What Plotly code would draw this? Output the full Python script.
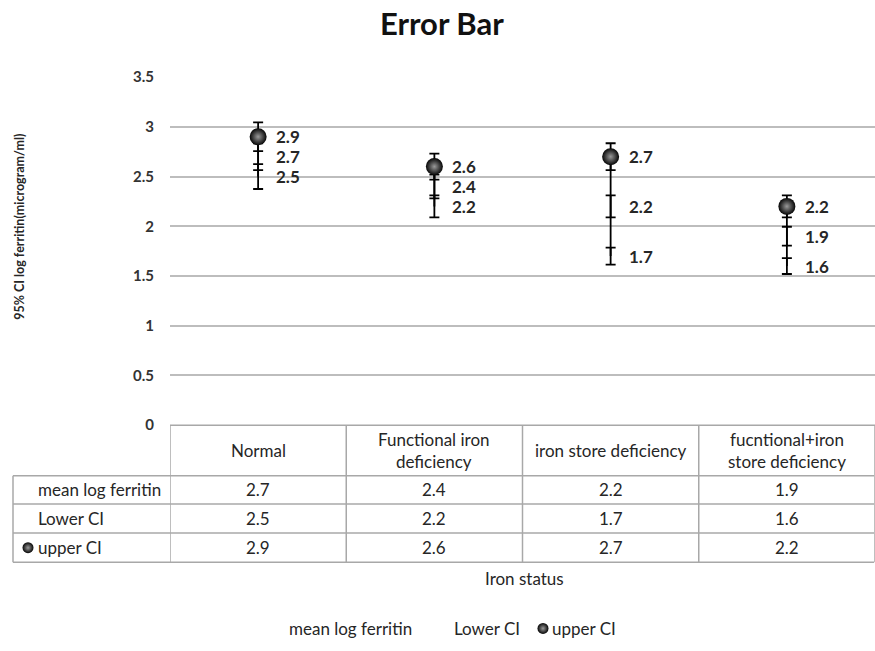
import plotly.graph_objects as go

# Iron status groups and the three ferritin series
categories = ["Normal", "Functional iron deficiency", "iron store deficiency",
              "fucntional+iron store deficiency"]
header_labels = ["Normal", "Functional iron<br>deficiency", "iron store deficiency",
                 "fucntional+iron<br>store deficiency"]
mean_log_ferritin = [2.7, 2.4, 2.2, 1.9]
lower_ci = [2.5, 2.2, 1.7, 1.6]
upper_ci = [2.9, 2.6, 2.7, 2.2]
series_names = ["mean log ferritin", "Lower CI", "upper CI"]
y_ticks = [0, 0.5, 1, 1.5, 2, 2.5, 3, 3.5]

W, H = 875, 651
PLOT_L, PLOT_R, PLOT_T, PLOT_B = 170, 875, 69, 427

FONT = "Lato"
TXT = "#262626"
GRID = "#bdbdbd"
TBL = "#a8a8a8"
SPHERE = dict(color="#050505", gradient=dict(type="radial", color="#9a9a9a"),
              line=dict(width=0))

fig = go.Figure()

# High-low lines joining the lower and upper CI of each group
hl_x, hl_y = [], []
for cat, lo, hi in zip(categories, lower_ci, upper_ci):
    hl_x += [cat, cat, None]
    hl_y += [lo, hi, None]
fig.add_trace(go.Scatter(x=hl_x, y=hl_y, mode="lines",
                         line=dict(color="black", width=1.8),
                         showlegend=False, hoverinfo="skip"))

err = dict(type="percent", value=5, color="black", thickness=1.8, width=5)

for name, vals in zip(series_names[:2], [mean_log_ferritin, lower_ci]):
    fig.add_trace(go.Scatter(
        x=categories, y=vals, name=name, mode="markers",
        marker=dict(size=17, color="rgba(0,0,0,0)"),
        error_y=err, showlegend=False, hoverinfo="skip",
    ))

fig.add_trace(go.Scatter(
    x=categories, y=upper_ci, name=series_names[2], mode="markers",
    marker=dict(size=17, **SPHERE),
    error_y=err, showlegend=False, hoverinfo="skip",
))

# Sphere keys for the table row and the legend (pixel overlay axes)
fig.add_trace(go.Scatter(
    x=[28, 543], y=[553, 636], mode="markers", xaxis="x2", yaxis="y2",
    marker=dict(size=11, **SPHERE), showlegend=False, hoverinfo="skip",
))

shapes = []
annotations = []

# Data labels to the right of each point
label_font = dict(family=FONT, size=17, color=TXT, weight="bold")
for vals in [mean_log_ferritin, lower_ci, upper_ci]:
    for cat, v in zip(categories, vals):
        annotations.append(dict(xref="x", yref="y", x=cat, y=v, text=f"{v:g}",
                                showarrow=False, xanchor="left", yanchor="middle",
                                xshift=16, font=label_font))

# Data table: borders
col_edges = [i - 0.5 for i in range(len(categories) + 1)]
row_lines = [479, 508, 538, 568]
shapes.append(dict(type="line", xref="x", yref="y2", x0=-0.5, x1=3.5, y0=427, y1=427,
                   line=dict(color=TBL, width=1.5)))
for yl in row_lines:
    shapes.append(dict(type="line", xref="x2", yref="y2", x0=13, x1=PLOT_R - 1,
                       y0=yl, y1=yl, line=dict(color=TBL, width=1.5)))
shapes.append(dict(type="line", xref="x2", yref="y2", x0=13, x1=13, y0=479, y1=568,
                   line=dict(color=TBL, width=1.5)))
for xe in col_edges:
    shapes.append(dict(type="line", xref="x", yref="y2", x0=xe, x1=xe, y0=427, y1=568,
                       line=dict(color=TBL, width=1.5)))

cell_font = dict(family=FONT, size=17, color=TXT)
for cat, head in zip(categories, header_labels):
    annotations.append(dict(xref="x", yref="y2", x=cat, y=453, text=head, showarrow=False,
                            font=cell_font, xanchor="center", yanchor="middle"))

row_centres = [493, 523, 553]
for yc, name, vals in zip(row_centres, series_names,
                          [mean_log_ferritin, lower_ci, upper_ci]):
    annotations.append(dict(xref="x2", yref="y2", x=36, y=yc, text=name, showarrow=False,
                            font=cell_font, xanchor="left", yanchor="middle"))
    for cat, v in zip(categories, vals):
        annotations.append(dict(xref="x", yref="y2", x=cat, y=yc, text=f"{v:g}",
                                showarrow=False, font=cell_font,
                                xanchor="center", yanchor="middle"))

# Axis titles
annotations.append(dict(xref="x2", yref="y2", x=20, y=223,
                        text="95% CI log ferritin(microgram/ml)", textangle=-90,
                        showarrow=False,
                        font=dict(family=FONT, size=12.5, color=TXT, weight="bold"),
                        xanchor="center", yanchor="middle"))
annotations.append(dict(xref="x2", yref="y2", x=524, y=585, text="Iron status",
                        showarrow=False,
                        font=dict(family=FONT, size=17, color=TXT),
                        xanchor="center", yanchor="middle"))

# Legend
legend_font = dict(family=FONT, size=17, color=TXT)
for xl, name in zip([287, 452, 550], series_names):
    annotations.append(dict(xref="x2", yref="y2", x=xl, y=636, text=name, showarrow=False,
                            font=legend_font, xanchor="left", yanchor="middle"))

fig.update_layout(
    width=W, height=H,
    margin=dict(l=0, r=0, t=0, b=0),
    paper_bgcolor="white", plot_bgcolor="rgba(0,0,0,0)",
    showlegend=False,
    title=dict(text="<b>Error Bar</b>", x=0.505, xanchor="center", y=0.963,
               yanchor="middle", font=dict(family=FONT, size=31, color="#111111")),
    xaxis=dict(domain=[PLOT_L / W, PLOT_R / W], type="category",
               categoryorder="array", categoryarray=categories,
               range=[-0.5, 3.5], showticklabels=False, showgrid=False,
               zeroline=False, showline=False, ticks="", fixedrange=True),
    yaxis=dict(domain=[(H - PLOT_B) / H, (H - PLOT_T) / H], range=[0, 3.5],
               tickvals=y_ticks, ticktext=[f"{t:g}" for t in y_ticks],
               showgrid=True, gridcolor=GRID, gridwidth=1.5, zeroline=False,
               showline=False, ticks="", ticklabelstandoff=15,
               tickfont=dict(family=FONT, size=15, color="#333333", weight="bold"),
               fixedrange=True),
    xaxis2=dict(domain=[0, 1], range=[0, W], visible=False, anchor="y2",
                fixedrange=True),
    yaxis2=dict(domain=[0, 1], range=[H, 0], visible=False, anchor="x2",
                fixedrange=True),
    shapes=shapes,
    annotations=annotations,
)

fig.write_html("out.html")
